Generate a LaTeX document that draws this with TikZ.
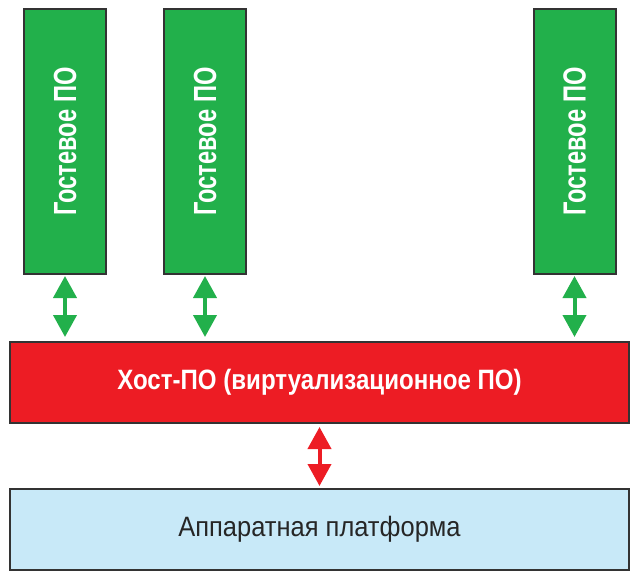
\documentclass[tikz,border=0pt]{standalone}
\usepackage{fontspec}
\setmainfont{Liberation Sans}
\newfontfamily\guestfont[FakeStretch=0.74]{Liberation Sans Bold}
\newfontfamily\hostfont[FakeStretch=0.86]{Liberation Sans Bold}
\newfontfamily\platfont[FakeStretch=0.91]{Liberation Sans}
\usetikzlibrary{positioning,arrows.meta}
\definecolor{guestgreen}{HTML}{22B04B}
\definecolor{hostred}{HTML}{ED1C24}
\definecolor{hwblue}{HTML}{C8E9F8}
\definecolor{edgegray}{HTML}{333333}
\tikzset{GUEST/.style={rectangle, draw=edgegray, line width=2pt, fill=guestgreen, minimum width=82pt, minimum height=265pt, inner sep=0pt, text=white, font=\guestfont\fontsize{32}{32}\selectfont}}
\tikzset{HOST/.style={rectangle, draw=edgegray, line width=2pt, fill=hostred, minimum width=619pt, minimum height=81pt, inner sep=0pt, text=white, font=\hostfont\fontsize{28}{28}\selectfont}}
\tikzset{HARDWARE/.style={rectangle, draw=edgegray, line width=2pt, fill=hwblue, minimum width=619pt, minimum height=81pt, inner sep=0pt, text=black!85, font=\platfont\fontsize{28}{28}\selectfont}}
\tikzset{LINK/.style={line width=4pt, {Triangle[width=23pt,length=22pt]}-{Triangle[width=23pt,length=22pt]}, shorten <=1pt, shorten >=4pt}}

\begin{document}
\begin{tikzpicture}[x=1pt,y=-1pt]
    \useasboundingbox (0,0) rectangle (640,580);

    \node[GUEST] (guest_a) at (65,141.5) {\rotatebox{90}{Гостевое ПО}};
    \node[GUEST] (guest_b) at (205,141.5) {\rotatebox{90}{Гостевое ПО}};
    \node[GUEST] (guest_c) at (574.5,141.5) {\rotatebox{90}{Гостевое ПО}};

    \node[HOST] (host) at (319.5,382.5) {Хост-ПО (виртуализационное ПО)};
    \node[HARDWARE] (hardware) at (319.5,529.5) {Аппаратная платформа};

    \draw[LINK, guestgreen] (guest_a.south) -- (guest_a.south |- host.north);
    \draw[LINK, guestgreen] (guest_b.south) -- (guest_b.south |- host.north);
    \draw[LINK, guestgreen] (guest_c.south) -- (guest_c.south |- host.north);

    \draw[LINK, hostred, shorten <=3pt, shorten >=2pt] (host.south) -- (hardware.north);

\end{tikzpicture}
\end{document}
